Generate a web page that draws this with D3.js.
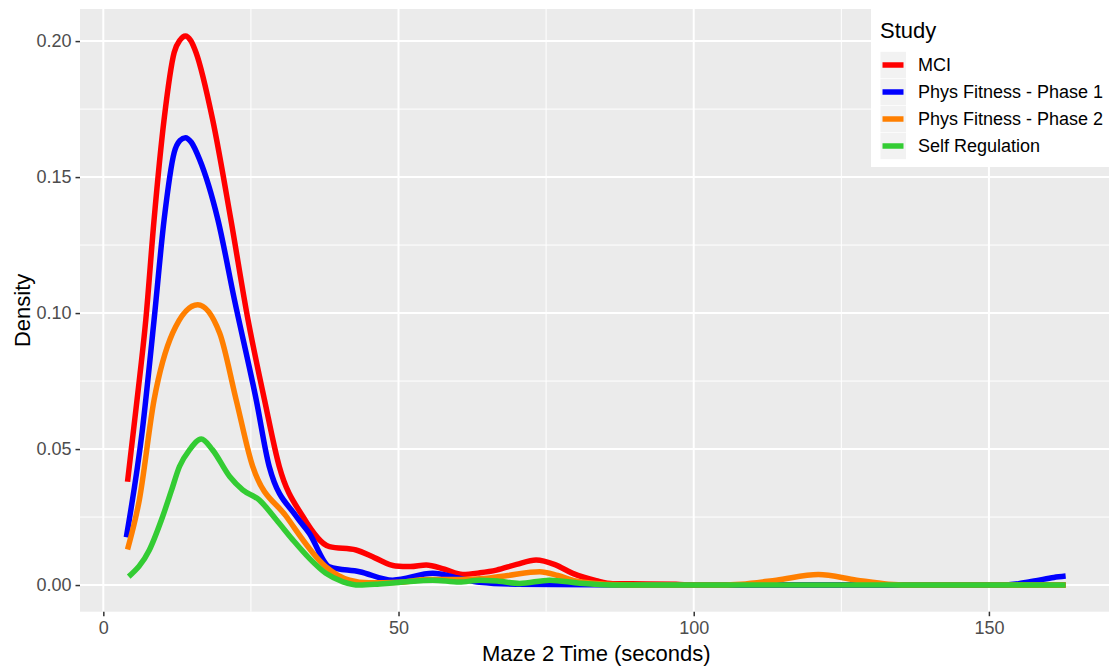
<!DOCTYPE html>
<html>
<head>
<meta charset="utf-8">
<script src="https://cdn.jsdelivr.net/npm/d3@7"></script>
<style>
  body { margin: 0; background: #fff; }
  svg { display: block; font-family: "Liberation Sans", Arial, sans-serif; }
</style>
</head>
<body>
<div id="graph"></div>
<script>
// density curves: [time in seconds, density]
const mci = [
  [4.1, 0.038], [5.6, 0.066], [7.2, 0.0976], [8.6, 0.1344], [10.3, 0.1713], [12.0, 0.1958],
  [13.0, 0.2004], [13.9, 0.2019], [14.8, 0.2002], [15.7, 0.1958], [18.5, 0.1713], [21.6, 0.1344], [24.5, 0.0976],
  [27.3, 0.0681], [29.8, 0.0436], [33.8, 0.0252], [38.3, 0.0141], [42.8, 0.0129],
  [46.0, 0.0100], [49.5, 0.0070], [52.0, 0.0068], [54.7, 0.0074], [57.8, 0.0058],
  [60.9, 0.0039], [63.8, 0.0045], [66.6, 0.0055], [70.0, 0.0076], [73.3, 0.0092],
  [76.5, 0.0075], [79.5, 0.0043], [83.5, 0.0016], [86.3, 0.0005], [92, 0.0004],
  [97, 0.0003], [100, 0], [163, 0]
];
const physPhase1 = [
  [3.9, 0.0176], [6.55, 0.0559], [8.6, 0.0976], [10.3, 0.1344], [12.0, 0.159], [13.0, 0.1635], [13.9, 0.1645],
  [14.9, 0.1628], [16.3, 0.1565], [19.4, 0.1344], [22.2, 0.105], [25.9, 0.0681], [28.1, 0.0436],
  [32.7, 0.0252], [34.9, 0.019], [38.3, 0.0067], [43.4, 0.0049], [49.0, 0.0018],
  [55.8, 0.0043], [60.3, 0.0025], [63.7, 0.001], [70, 0.0003], [90, 0], [152, 0],
  [155, 0.0005], [158, 0.0016], [161, 0.0028], [163, 0.0033]
];
const physPhase2 = [
  [4.1, 0.0131], [6.1, 0.0313], [8.6, 0.0681], [11.75, 0.0927], [16.0, 0.1031],
  [19.7, 0.0927], [22.5, 0.0681], [25.3, 0.0436], [31.0, 0.0252], [37.7, 0.0067],
  [41.7, 0.0018], [45, 0.0008], [50, 0.001], [55, 0.002], [60, 0.002], [65, 0.0025],
  [68.5, 0.0035], [73.9, 0.0049], [77, 0.0035], [80, 0.0015], [85, 0.0003], [90, 0],
  [105, 0], [108, 0.0003], [114, 0.0018], [121.1, 0.0039], [127.6, 0.0018],
  [133, 0.0003], [136, 0], [163, 0]
];
const selfRegulation = [
  [4.3, 0.0031], [7.8, 0.0129], [10.05, 0.0252], [11.5, 0.0345], [12.9, 0.0436], [14.6, 0.0497],
  [16.6, 0.0537], [18.5, 0.0497], [21.4, 0.0399], [23.6, 0.035], [26.4, 0.0313],
  [29.3, 0.024], [32.1, 0.0166], [34.9, 0.0098], [37.7, 0.0043], [40.6, 0.0012],
  [43.4, 0], [46.8, 0.0004], [50, 0.0009], [55.8, 0.0018], [60.3, 0.0011],
  [63.7, 0.0018], [67, 0.0014], [70.5, 0.0006], [75.6, 0.0018], [80.7, 0.0007],
  [87.5, 0], [163, 0]
];

const studies = ["MCI", "Phys Fitness - Phase 1", "Phys Fitness - Phase 2", "Self Regulation"];
const studyColors = ["#FF0000", "#0000FF", "#FF7F00", "#33CC33"];
const xTicks = [0, 50, 100, 150];
const yTicks = [0, 0.05, 0.10, 0.15, 0.20];

const series = [mci, physPhase1, physPhase2, selfRegulation];

const width = 1109, height = 670;
const panel = { left: 80, top: 9, right: 1112.6, bottom: 611.7 };

var svg = d3.select("#graph").append("svg")
  .attr("width", width)
  .attr("height", height);

// ggplot style 5% expansion around the data range
var x = d3.scaleLinear().domain([-3.95, 170.95]).range([panel.left, panel.right]);
var y = d3.scaleLinear().domain([-0.0098, 0.2118]).range([panel.bottom, panel.top]);

// panel background
svg.append("rect")
  .attr("x", panel.left).attr("y", panel.top)
  .attr("width", panel.right - panel.left).attr("height", panel.bottom - panel.top)
  .attr("fill", "#EBEBEB");

// minor grid
var xMinor = [25, 75, 125], yMinor = [0.025, 0.075, 0.125, 0.175];
svg.append("g").selectAll("line").data(xMinor).enter().append("line")
  .attr("x1", d => x(d)).attr("x2", d => x(d))
  .attr("y1", panel.top).attr("y2", panel.bottom)
  .attr("stroke", "#fff").attr("stroke-width", 1);
svg.append("g").selectAll("line").data(yMinor).enter().append("line")
  .attr("x1", panel.left).attr("x2", panel.right)
  .attr("y1", d => y(d)).attr("y2", d => y(d))
  .attr("stroke", "#fff").attr("stroke-width", 1);

// major grid
svg.append("g").selectAll("line").data(xTicks).enter().append("line")
  .attr("x1", d => x(d)).attr("x2", d => x(d))
  .attr("y1", panel.top).attr("y2", panel.bottom)
  .attr("stroke", "#fff").attr("stroke-width", 2);
svg.append("g").selectAll("line").data(yTicks).enter().append("line")
  .attr("x1", panel.left).attr("x2", panel.right)
  .attr("y1", d => y(d)).attr("y2", d => y(d))
  .attr("stroke", "#fff").attr("stroke-width", 2);

// density lines
var line = d3.line()
  .x(d => x(d[0]))
  .y(d => y(d[1]))
  .curve(d3.curveMonotoneX);

svg.append("g").selectAll("path").data(series).enter().append("path")
  .attr("d", line)
  .attr("fill", "none")
  .attr("stroke", (d, i) => studyColors[i])
  .attr("stroke-width", 5.5)
  .attr("stroke-linejoin", "round")
  .attr("stroke-linecap", "butt");

// axes
var xAxis = d3.axisBottom(x).tickValues(xTicks).tickSize(4.5).tickPadding(4).tickFormat(d3.format("d"));
var yAxis = d3.axisLeft(y).tickValues(yTicks).tickSize(4.5).tickPadding(4).tickFormat(d3.format(".2f"));

var gx = svg.append("g")
  .attr("transform", "translate(0," + panel.bottom + ")")
  .call(xAxis);
var gy = svg.append("g")
  .attr("transform", "translate(" + panel.left + ",0)")
  .call(yAxis);

[gx, gy].forEach(g => {
  g.select(".domain").remove();
  g.selectAll(".tick line").attr("stroke", "#333333").attr("stroke-width", 1.5);
  g.selectAll(".tick text")
    .attr("fill", "#4D4D4D")
    .style("font-size", "18px")
    .style("font-family", "'Liberation Sans', Arial, sans-serif");
});
gx.selectAll(".tick text").attr("dy", "0.75em");

// axis titles
svg.append("text")
  .attr("x", (panel.left + panel.right) / 2)
  .attr("y", 661)
  .attr("text-anchor", "middle")
  .style("font-size", "22px")
  .attr("fill", "#000")
  .text("Maze 2 Time (seconds)");

svg.append("text")
  .attr("transform", "translate(29.5," + ((panel.top + panel.bottom) / 2) + ") rotate(-90)")
  .attr("text-anchor", "middle")
  .style("font-size", "22px")
  .attr("fill", "#000")
  .text("Density");

// legend
var legend = svg.append("g");
legend.append("rect")
  .attr("x", 871).attr("y", 0)
  .attr("width", width - 871).attr("height", 167)
  .attr("fill", "#fff");
legend.append("text")
  .attr("x", 880).attr("y", 38)
  .style("font-size", "22px")
  .attr("fill", "#000")
  .text("Study");

var rows = legend.selectAll("g.key").data(studies).enter().append("g")
  .attr("class", "key")
  .attr("transform", (d, i) => "translate(0," + (65 + i * 27) + ")");
rows.append("rect")
  .attr("x", 880.5).attr("y", -13.2)
  .attr("width", 25.5).attr("height", 26.4)
  .attr("fill", "#F2F2F2");
rows.append("line")
  .attr("x1", 882.5).attr("x2", 903.5)
  .attr("y1", 0).attr("y2", 0)
  .attr("stroke", (d, i) => studyColors[i])
  .attr("stroke-width", 5.5);
rows.append("text")
  .attr("x", 918).attr("y", 0).attr("dy", "0.35em")
  .style("font-size", "18px")
  .attr("fill", "#000")
  .text(d => d);
</script>
</body>
</html>
